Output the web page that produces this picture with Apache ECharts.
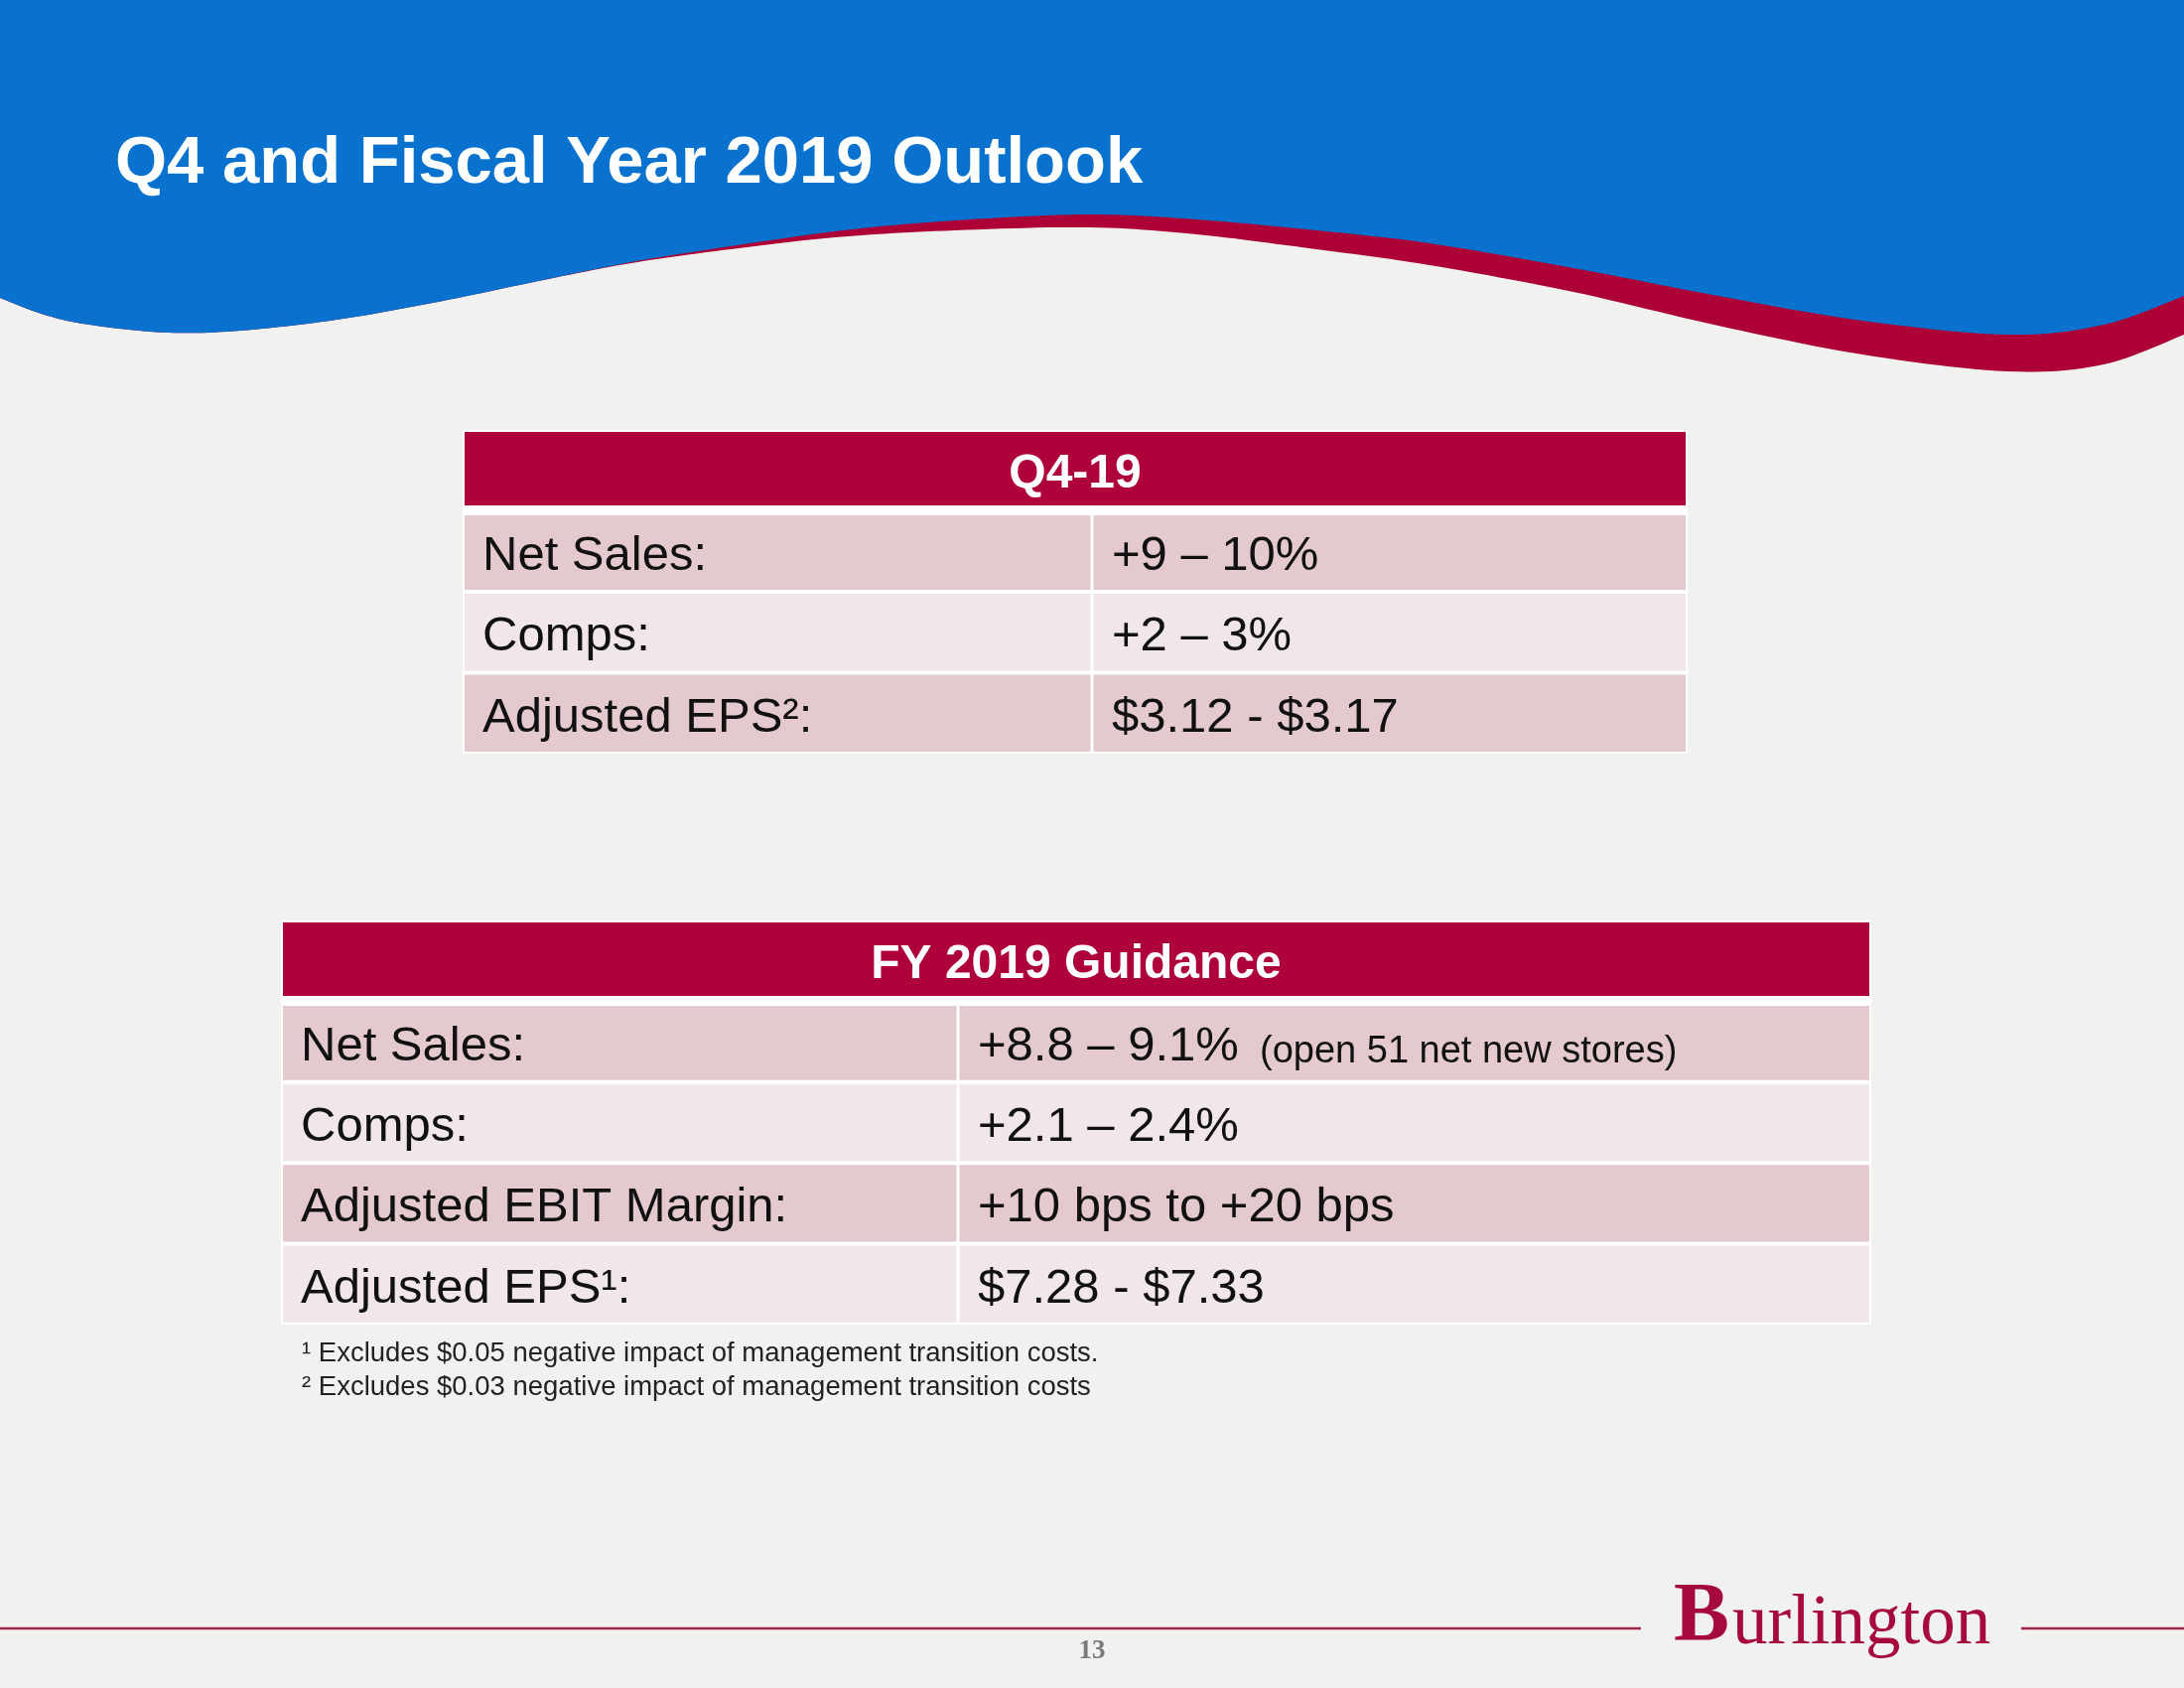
<!DOCTYPE html>
<html>
<head>
<meta charset="utf-8">
<script src="https://cdn.jsdelivr.net/npm/echarts@6/dist/echarts.min.js"></script>
<style>
html,body{margin:0;padding:0;background:#F1F1EF;}
#chart{width:2200px;height:1700px;}
</style>
</head>
<body>
<div id="chart"></div>
<script>
// ---- content ----
const slideTitle = 'Q4 and Fiscal Year 2019 Outlook';
const q4Title = 'Q4-19';
const q4Labels = ['Net Sales:', 'Comps:', 'Adjusted EPS\u00B2:'];
const q4Values = ['+9 \u2013 10%', '+2 \u2013 3%', '$3.12 - $3.17'];
const q4Notes = ['', '', ''];
const fyTitle = 'FY 2019 Guidance';
const fyLabels = ['Net Sales:', 'Comps:', 'Adjusted EBIT Margin:', 'Adjusted EPS\u00B9:'];
const fyValues = ['+8.8 \u2013 9.1%', '+2.1 \u2013 2.4%', '+10 bps to +20 bps', '$7.28 - $7.33'];
const fyNotes = ['(open 51 net new stores)', '', '', ''];
const footnotes = [
  '\u00B9 Excludes $0.05 negative impact of management transition costs.',
  '\u00B2 Excludes $0.03 negative impact of management transition costs'
];
const pageNumber = '13';
const brandInitial = 'B';
const brandRest = 'urlington';

// ---- styling ----
const BG = '#F1F1EF';
const BLUE = '#0872CE';
const WAVE_RED = '#AC0036';
const HEAD_RED = '#AE003C';
const ROW_DARK = '#E4CACE';
const ROW_LIGHT = '#F1E6E8';
const SANS = '"Liberation Sans", Arial, sans-serif';
const SERIF = '"Liberation Serif", "Times New Roman", serif';

// wave outlines (decoration)
const blueEdge = [[0,300],[48,318],[97,328],[170,335],[242,333],[339,322],[436,305],[533,285],[630,265],[710,252],[841,233],[962,222],[1098,216],[1205,221],[1326,232],[1440,245],[1585,270],[1731,298],[1876,323],[2022,337],[2119,327],[2200,298]];
const redEdge = [[0,300],[48,318],[97,328],[170,335],[242,333],[339,322],[436,305],[533,285],[630,266],[720,253],[841,239],[962,232],[1098,229],[1205,236],[1326,251],[1440,267],[1585,294],[1731,328],[1876,357],[2022,374],[2119,367],[2200,337]];

function smoothPoints(pts) {
  const out = [pts[0].slice()];
  for (let i = 0; i < pts.length - 1; i++) {
    const p0 = pts[i-1] || pts[i], p1 = pts[i], p2 = pts[i+1], p3 = pts[i+2] || pts[i+1];
    const c1 = [p1[0] + (p2[0]-p0[0])/6, p1[1] + (p2[1]-p0[1])/6];
    const c2 = [p2[0] - (p3[0]-p1[0])/6, p2[1] - (p3[1]-p1[1])/6];
    for (let k = 1; k <= 12; k++) {
      const t = k / 12, u = 1 - t;
      out.push([
        u*u*u*p1[0] + 3*u*u*t*c1[0] + 3*u*t*t*c2[0] + t*t*t*p2[0],
        u*u*u*p1[1] + 3*u*u*t*c1[1] + 3*u*t*t*c2[1] + t*t*t*p2[1]
      ]);
    }
  }
  return out;
}
function wavePolygon(pts) {
  return [[0, 0]].concat(smoothPoints(pts)).concat([[2200, 0]]);
}

function buildData(nRows, split) {
  const d = [[0, 1, 0, -1]];
  for (let r = 1; r <= nRows; r++) {
    d.push([0, split, r, 0]);
    d.push([split, 1, r, 1]);
  }
  return d;
}

function makeRender(title, labels, values, notes) {
  return function (params, api) {
    const x0 = api.value(0), x1 = api.value(1), row = api.value(2), col = api.value(3);
    const a = api.coord([x0, row]);
    const b = api.coord([x1, row]);
    const bh = api.size([0, 1])[1];
    const top = a[1] - bh / 2;
    const left = a[0], right = b[0];
    let il = 2, ir = 2, it = 2, ib = 2;
    if (col === 0) ir = 1.5;
    if (col === 1) il = 1.5;
    if (row === 0) ib = 5.5;
    if (row === 1) it = 4.5;
    const fill = row === 0 ? HEAD_RED : (row % 2 === 1 ? ROW_DARK : ROW_LIGHT);
    const children = [{
      type: 'rect',
      shape: { x: left + il, y: top + it, width: right - left - il - ir, height: bh - it - ib },
      style: { fill: fill }
    }];
    const cy = top + bh / 2 + (row === 0 ? 0 : 5);
    if (row === 0) {
      children.push({
        type: 'text', x: (left + right) / 2, y: cy + 4,
        style: { text: title, fill: '#fff', font: 'bold 48px ' + SANS, align: 'center', verticalAlign: 'middle' }
      });
    } else if (col === 0) {
      children.push({
        type: 'text', x: left + 20, y: cy,
        style: { text: labels[row - 1], fill: '#111', font: '49px ' + SANS, align: 'left', verticalAlign: 'middle' }
      });
    } else {
      const note = notes[row - 1];
      if (note) {
        children.push({
          type: 'text', x: left + 20, y: cy,
          style: {
            text: '{v|' + values[row - 1] + '}{n|  ' + note + '}',
            align: 'left', verticalAlign: 'middle',
            rich: {
              v: { fontSize: 49, fontFamily: SANS, fill: '#111', verticalAlign: 'bottom' },
              n: { fontSize: 38, fontFamily: SANS, fill: '#111', verticalAlign: 'bottom' }
            }
          }
        });
      } else {
        children.push({
          type: 'text', x: left + 20, y: cy,
          style: { text: values[row - 1], fill: '#111', font: '49px ' + SANS, align: 'left', verticalAlign: 'middle' }
        });
      }
    }
    return { type: 'group', children: children };
  };
}

const chart = echarts.init(document.getElementById('chart'), null, { renderer: 'canvas' });

const option = {
  backgroundColor: BG,
  animation: false,
  grid: [
    { left: 466, top: 433, width: 1234, height: 326, show: true, backgroundColor: '#fff', borderWidth: 0 },
    { left: 283, top: 927, width: 1602, height: 407, show: true, backgroundColor: '#fff', borderWidth: 0 }
  ],
  xAxis: [
    { type: 'value', gridIndex: 0, min: 0, max: 1, show: false },
    { type: 'value', gridIndex: 1, min: 0, max: 1, show: false }
  ],
  yAxis: [
    { type: 'category', gridIndex: 0, inverse: true, show: false, data: ['h'].concat(q4Labels) },
    { type: 'category', gridIndex: 1, inverse: true, show: false, data: ['h'].concat(fyLabels) }
  ],
  series: [
    {
      type: 'custom', xAxisIndex: 0, yAxisIndex: 0,
      encode: { x: [0, 1], y: 2 },
      data: buildData(q4Labels.length, 634 / 1234),
      renderItem: makeRender(q4Title, q4Labels, q4Values, q4Notes)
    },
    {
      type: 'custom', xAxisIndex: 1, yAxisIndex: 1,
      encode: { x: [0, 1], y: 2 },
      data: buildData(fyLabels.length, 682 / 1602),
      renderItem: makeRender(fyTitle, fyLabels, fyValues, fyNotes)
    }
  ],
  graphic: [
    { type: 'polygon', z: 0, shape: { points: wavePolygon(redEdge) }, style: { fill: WAVE_RED } },
    { type: 'polygon', z: 1, shape: { points: wavePolygon(blueEdge) }, style: { fill: BLUE } },
    { type: 'text', z: 2, x: 116, y: 166,
      style: { text: slideTitle, fill: '#fff', font: 'bold 67px ' + SANS, align: 'left', verticalAlign: 'middle' } },
    { type: 'text', z: 2, x: 304, y: 1363,
      style: { text: footnotes[0], fill: '#222', font: '27.5px ' + SANS, align: 'left', verticalAlign: 'middle' } },
    { type: 'text', z: 2, x: 304, y: 1397,
      style: { text: footnotes[1], fill: '#222', font: '27.5px ' + SANS, align: 'left', verticalAlign: 'middle' } },
    { type: 'line', z: 2, shape: { x1: 0, y1: 1640, x2: 1653, y2: 1640 }, style: { stroke: '#A0234A', lineWidth: 2.5 } },
    { type: 'line', z: 2, shape: { x1: 2036, y1: 1640, x2: 2200, y2: 1640 }, style: { stroke: '#A0234A', lineWidth: 2.5 } },
    { type: 'text', z: 2, x: 1714, y: 1672,
      style: { text: brandInitial, fill: '#A6093D', font: 'bold 84px ' + SERIF, align: 'center', verticalAlign: 'bottom' } },
    { type: 'text', z: 2, x: 1745, y: 1672,
      style: { text: brandRest, fill: '#A6093D', font: '71px ' + SERIF, align: 'left', verticalAlign: 'bottom' } },
    { type: 'text', z: 2, x: 1100, y: 1663,
      style: { text: pageNumber, fill: '#7A7A7A', font: 'bold 27px ' + SERIF, align: 'center', verticalAlign: 'middle' } }
  ]
};
chart.setOption(option);
</script>
</body>
</html>
